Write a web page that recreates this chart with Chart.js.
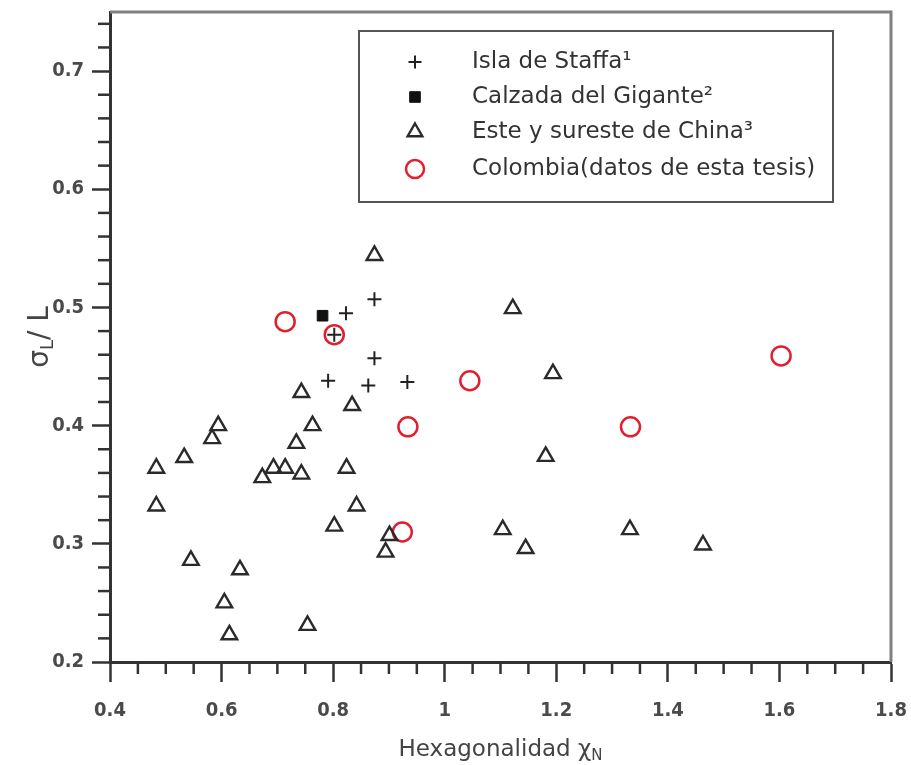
<!DOCTYPE html>
<html><head><meta charset="utf-8">
<script src="https://cdn.jsdelivr.net/npm/chart.js@4.4.0/dist/chart.umd.min.js"></script>
<style>html,body{margin:0;padding:0;background:#fff}#wrap{width:911px;height:765px;position:relative}</style>
</head><body><div id="wrap"><canvas id="c"></canvas></div>
<script>
// ---- data ----
const seriesNames = ['Isla de Staffa\u00b9', 'Calzada del Gigante\u00b2', 'Este y sureste de China\u00b3', 'Colombia(datos de esta tesis)'];
const staffaX = [0.823, 0.874, 0.802, 0.874, 0.791, 0.863, 0.933];
const staffaY = [0.495, 0.507, 0.477, 0.457, 0.438, 0.434, 0.437];
const calzadaX = [0.781];
const calzadaY = [0.493];
const chinaX = [0.874, 1.122, 1.194, 0.743, 0.834, 0.594, 0.763, 0.583, 0.734, 1.181, 0.533, 0.483, 0.693, 0.714, 0.673, 0.743, 0.824, 0.483, 0.842, 0.802, 0.901, 0.894, 1.104, 1.145, 1.332, 1.463, 0.545, 0.633, 0.605, 0.614, 0.754];
const chinaY = [0.544, 0.499, 0.444, 0.428, 0.417, 0.400, 0.400, 0.389, 0.385, 0.374, 0.373, 0.364, 0.364, 0.364, 0.356, 0.359, 0.364, 0.332, 0.332, 0.315, 0.307, 0.293, 0.312, 0.296, 0.312, 0.299, 0.286, 0.278, 0.250, 0.223, 0.231];
const colombiaX = [0.714, 0.802, 1.045, 0.934, 0.924, 1.333, 1.603];
const colombiaY = [0.488, 0.477, 0.438, 0.399, 0.310, 0.399, 0.459];
const xTickVals = [0.4, 0.6, 0.8, 1.0, 1.2, 1.4, 1.6, 1.8];
const yTickVals = [0.2, 0.3, 0.4, 0.5, 0.6, 0.7];
const xTitle = 'Hexagonalidad \u03c7';
const xTitleSub = 'N';
const yTitle = ['\u03c3', 'L', '/ L'];

const pts = (xs, ys) => xs.map((x, i) => ({x: x, y: ys[i]}));
const FONT = '"DejaVu Sans", sans-serif';
const FONTC = '"DejaVu Sans Condensed", "DejaVu Sans", sans-serif';

const datasets = [
  {label: seriesNames[0], data: pts(staffaX, staffaY), pointStyle: 'cross', pointRadius: 7, borderColor: '#222', backgroundColor: '#222', pointBorderWidth: 2},
  {label: seriesNames[1], data: pts(calzadaX, calzadaY), pointStyle: 'rect', pointRadius: 7.5, borderColor: '#111', backgroundColor: '#111', pointBorderWidth: 1},
  {label: seriesNames[2], data: pts(chinaX, chinaY), pointStyle: 'triangle', pointRadius: 9, borderColor: '#2a2a2a', backgroundColor: 'rgba(0,0,0,0)', pointBorderWidth: 2.4},
  {label: seriesNames[3], data: pts(colombiaX, colombiaY), pointStyle: 'circle', pointRadius: 9.5, borderColor: '#e0202e', backgroundColor: 'rgba(0,0,0,0)', pointBorderWidth: 2.5}
];

const extras = {
  id: 'extras',
  afterDraw(chart) {
    const ctx = chart.ctx, ca = chart.chartArea;
    const xs = chart.scales.x, ys = chart.scales.y;
    ctx.save();
    // minor ticks
    ctx.strokeStyle = '#333'; ctx.lineWidth = 2.5;
    for (let i = 0; i <= 28; i++) {
      if (i % 4 === 0) continue;
      const px = xs.getPixelForValue(0.4 + i * 0.05);
      ctx.beginPath(); ctx.moveTo(px, ca.bottom); ctx.lineTo(px, ca.bottom + 12); ctx.stroke();
    }
    for (let i = 0; i <= 27; i++) {
      if (i % 5 === 0) continue;
      const py = ys.getPixelForValue(0.2 + i * 0.02);
      ctx.beginPath(); ctx.moveTo(ca.left, py); ctx.lineTo(ca.left - 12, py); ctx.stroke();
    }
    // top / right frame
    ctx.strokeStyle = '#808080'; ctx.lineWidth = 3;
    ctx.beginPath(); ctx.moveTo(ca.left, ca.top); ctx.lineTo(ca.right, ca.top); ctx.lineTo(ca.right, ca.bottom); ctx.stroke();
    // legend
    const lx = 359, ly = 31, lw = 474, lh = 171;
    ctx.fillStyle = '#fff'; ctx.fillRect(lx, ly, lw, lh);
    ctx.strokeStyle = '#555'; ctx.lineWidth = 2; ctx.strokeRect(lx, ly, lw, lh);
    const rows = [62, 97, 132, 169];
    const legendSizes = [6.5, 7.5, 8.5, 9];
    chart.data.datasets.forEach((ds, i) => {
      const opts = {pointStyle: ds.pointStyle, radius: legendSizes[i], borderWidth: ds.pointBorderWidth, rotation: 0};
      ctx.strokeStyle = ds.borderColor; ctx.fillStyle = ds.backgroundColor; ctx.lineWidth = ds.pointBorderWidth;
      Chart.helpers.drawPoint(ctx, opts, 415, rows[i]);
      ctx.fillStyle = '#333'; ctx.font = '23px ' + FONT; ctx.textBaseline = 'middle'; ctx.textAlign = 'left';
      ctx.fillText(ds.label, 472, rows[i]);
    });
    // x title
    ctx.fillStyle = '#444'; ctx.textBaseline = 'alphabetic';
    ctx.font = '23px ' + FONT;
    const w1 = ctx.measureText(xTitle).width;
    ctx.font = '15px ' + FONT;
    const w2 = ctx.measureText(xTitleSub).width;
    const cx = (ca.left + ca.right) / 2;
    let sx = cx - (w1 + w2) / 2;
    ctx.font = '23px ' + FONT; ctx.fillText(xTitle, sx, 756);
    ctx.font = '15px ' + FONT; ctx.fillText(xTitleSub, sx + w1, 760);
    // y title rotated
    ctx.translate(48, (ca.top + ca.bottom) / 2);
    ctx.rotate(-Math.PI / 2);
    ctx.font = '28px ' + FONT; const a = ctx.measureText(yTitle[0]).width;
    ctx.font = '18px ' + FONT; const b = ctx.measureText(yTitle[1]).width;
    ctx.font = '28px ' + FONT; const c = ctx.measureText(yTitle[2]).width;
    let tx = -(a + b + c) / 2;
    ctx.font = '28px ' + FONT; ctx.fillText(yTitle[0], tx, 0);
    ctx.font = '18px ' + FONT; ctx.fillText(yTitle[1], tx + a, 5);
    ctx.font = '28px ' + FONT; ctx.fillText(yTitle[2], tx + a + b, 0);
    ctx.restore();
  }
};

const zeroPad = s => { s.paddingLeft = 0; s.paddingRight = 0; s.paddingTop = 0; s.paddingBottom = 0; };

new Chart(document.getElementById('c'), {
  type: 'scatter',
  data: {datasets: datasets},
  options: {
    responsive: true, maintainAspectRatio: false, animation: false,
    layout: {padding: {left: 0, top: 10, right: 20, bottom: 0}},
    plugins: {legend: {display: false}, tooltip: {enabled: false}},
    scales: {
      x: {
        type: 'linear', min: 0.4, max: 1.8,
        afterBuildTicks: s => { s.ticks = xTickVals.map(v => ({value: v})); },
        afterFit: s => { s.height = 103; zeroPad(s); },
        grid: {drawOnChartArea: false, drawTicks: true, tickLength: 20, tickWidth: 2.5, tickColor: '#333'},
        border: {display: true, color: '#333', width: 3},
        ticks: {padding: 17, color: '#4a4a4a', font: {family: FONTC, size: 20, weight: 'bold'}, callback: v => String(Number(v.toFixed(1)))}
      },
      y: {
        type: 'linear', min: 0.2, max: 0.75,
        afterBuildTicks: s => { s.ticks = yTickVals.map(v => ({value: v})); },
        afterFit: s => { s.width = 110; zeroPad(s); },
        grid: {drawOnChartArea: false, drawTicks: true, tickLength: 18, tickWidth: 2.5, tickColor: '#333'},
        border: {display: true, color: '#333', width: 3},
        ticks: {padding: 8, color: '#4a4a4a', font: {family: FONTC, size: 20, weight: 'bold'}, callback: v => v.toFixed(1)}
      }
    }
  },
  plugins: [extras]
});
</script></body></html>
